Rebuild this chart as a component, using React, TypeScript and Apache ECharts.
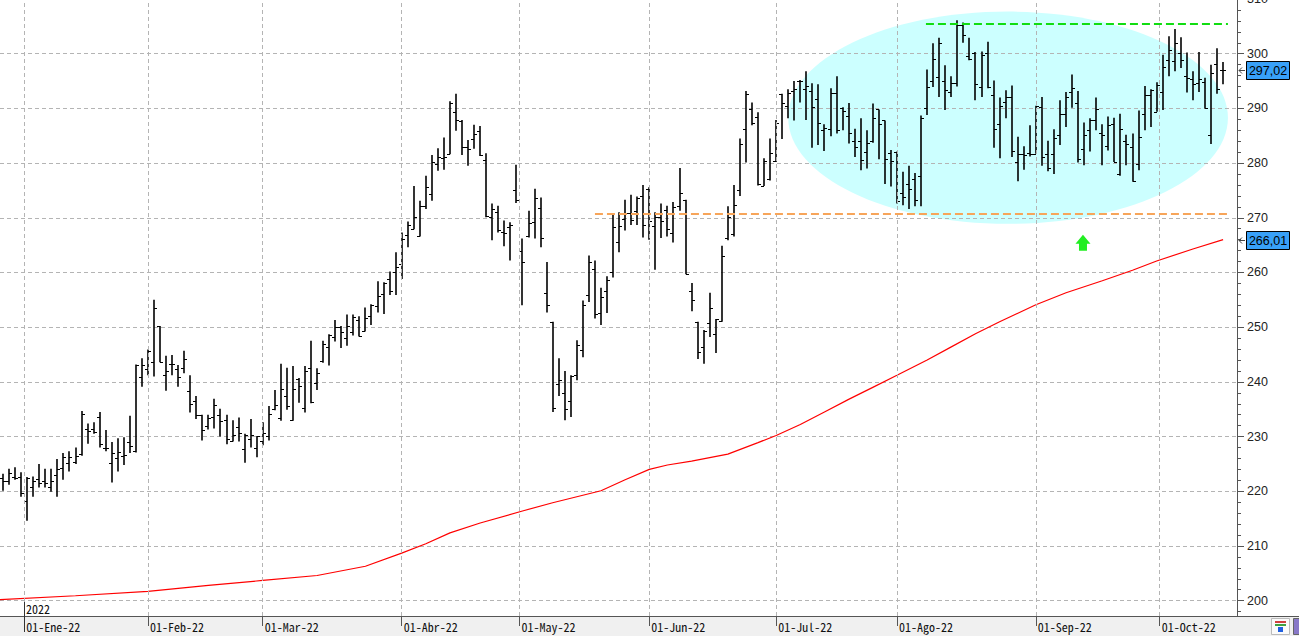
import React, { useEffect, useRef } from "react";
import * as echarts from "echarts";

// ---------- calendar (US trading days) ----------
const holidays = ["2022-01-17", "2022-02-21", "2022-04-15", "2022-05-30", "2022-06-20", "2022-07-04", "2022-09-05"];
const firstDay = "2021-12-28";
const lastDay = "2022-10-17";
const monthNames = ["Ene", "Feb", "Mar", "Abr", "May", "Jun", "Jul", "Ago", "Sep", "Oct", "Nov", "Dic"];
const monthStarts = ["2022-01-01", "2022-02-01", "2022-03-01", "2022-04-01", "2022-05-01", "2022-06-01", "2022-07-01", "2022-08-01", "2022-09-01", "2022-10-01"];

function buildDates(start: string, end: string): string[] {
  const out: string[] = [];
  const d = new Date(start + "T00:00:00Z");
  const e = new Date(end + "T00:00:00Z");
  while (d <= e) {
    const wd = d.getUTCDay();
    const s = d.toISOString().slice(0, 10);
    if (wd !== 0 && wd !== 6 && holidays.indexOf(s) < 0) out.push(s);
    d.setUTCDate(d.getUTCDate() + 1);
  }
  return out;
}
const dates = buildDates(firstDay, lastDay);

// ---------- OHLC ----------
const opens = [
  222.4, 221.8, 222.7, 222.6, 218.3, 220.7, 222.2, 221.8, 220.7, 222.9,
  224.2, 225.1, 225.3, 226.9, 231.3, 231.3, 233.5, 228.0, 225.1, 226.0,
  226.5, 229.0, 227.4, 240.9, 242.4, 243.6, 250.2, 241.3, 243.2, 242.4,
  242.5, 238.4, 236.5, 234.0, 231.9, 233.5, 234.0, 233.0, 229.2, 231.7,
  227.7, 229.6, 228.0, 229.2, 230.1, 235.0, 233.4, 237.4, 233.0, 240.5,
  235.2, 242.5, 239.8, 243.9, 246.3, 248.2, 250.1, 248.0, 249.1, 251.3,
  249.3, 252.1, 253.9, 256.0, 258.8, 260.1, 261.6, 266.9, 267.9, 266.7,
  272.2, 274.3, 279.8, 280.9, 281.6, 289.3, 287.7, 282.9, 284.4, 285.9,
  280.6, 270.1, 271.0, 267.4, 268.4, 275.1, 264.0, 266.6, 269.3, 271.8,
  256.3, 251.0, 239.7, 238.0, 236.5, 241.2, 245.9, 255.8, 260.7, 252.6,
  256.7, 260.0, 265.6, 269.8, 270.9, 271.3, 274.0, 275.3, 268.5, 270.2,
  271.5, 267.2, 272.2, 273.3, 256.7, 251.0, 246.4, 250.8, 248.7, 251.1,
  266.3, 267.0, 275.1, 286.2, 289.8, 288.4, 275.8, 277.1, 280.3, 292.7,
  290.4, 293.2, 295.0, 293.6, 293.2, 291.8, 286.0, 286.3, 292.9, 290.1,
  288.7, 284.1, 284.1, 282.1, 284.1, 289.8, 287.8, 281.9, 282.1, 274.5,
  276.1, 277.1, 277.7, 290.1, 295.0, 295.7, 295.1, 293.0, 294.6, 305.2,
  299.5, 300.2, 294.0, 300.1, 292.4, 287.2, 291.2, 292.1, 280.2, 281.6,
  281.9, 281.7, 290.3, 281.7, 281.7, 285.1, 289.0, 293.0, 290.9, 282.5,
  286.0, 287.8, 285.5, 283.2, 287.1, 278.0, 284.1, 282.9, 279.8, 288.9,
  292.4, 289.4, 293.0, 298.8, 298.7, 300.1, 296.0, 295.3, 294.6, 294.8,
  285.2, 298.2, 297.1,
];
const highs = [
  223.2, 224.1, 224.4, 223.5, 222.6, 222.7, 225.0, 224.1, 224.1, 225.9,
  227.0, 227.3, 228.0, 234.7, 232.4, 232.6, 234.5, 231.2, 229.0, 229.7,
  229.9, 233.8, 243.2, 244.3, 245.9, 255.0, 250.2, 244.8, 244.9, 243.1,
  245.7, 241.2, 237.4, 234.0, 234.0, 236.9, 235.1, 234.0, 233.0, 233.5,
  230.5, 233.2, 230.1, 232.6, 235.6, 238.5, 243.3, 242.6, 242.9, 240.7,
  242.9, 247.5, 242.5, 247.5, 248.7, 251.3, 250.2, 252.3, 252.3, 252.0,
  253.6, 254.2, 258.4, 258.2, 260.2, 263.7, 267.3, 269.3, 275.8, 273.1,
  277.7, 281.5, 282.7, 284.7, 291.3, 292.7, 287.9, 284.2, 287.0, 286.8,
  281.8, 272.6, 272.2, 269.5, 269.2, 279.7, 266.2, 271.3, 275.3, 273.7,
  261.9, 251.0, 244.3, 242.0, 241.2, 247.6, 254.9, 263.1, 262.2, 257.2,
  259.3, 270.5, 271.0, 273.3, 274.2, 273.9, 276.0, 275.6, 271.0, 272.6,
  272.2, 272.9, 279.1, 273.3, 258.1, 251.0, 249.5, 256.3, 251.5, 264.9,
  272.1, 276.0, 284.5, 293.2, 291.1, 289.3, 280.9, 284.5, 287.9, 292.7,
  293.5, 295.0, 295.2, 296.8, 294.6, 294.4, 287.1, 293.7, 295.9, 290.2,
  291.0, 286.3, 288.2, 286.0, 290.9, 289.8, 287.8, 282.4, 282.1, 278.4,
  279.5, 278.2, 288.7, 297.1, 301.9, 302.9, 297.9, 295.9, 306.1, 305.7,
  302.9, 300.3, 300.4, 302.2, 295.1, 292.0, 293.3, 294.2, 284.8, 283.1,
  286.9, 290.5, 292.1, 284.1, 286.2, 291.5, 293.0, 296.2, 293.2, 287.4,
  288.2, 292.0, 287.1, 288.5, 288.3, 289.0, 285.2, 285.4, 289.6, 294.1,
  293.5, 294.8, 299.8, 303.2, 304.5, 303.0, 300.2, 296.8, 300.3, 295.6,
  298.0, 301.0, 298.5,
];
const lows = [
  220.1, 221.2, 222.1, 219.0, 214.6, 219.0, 220.7, 220.7, 219.9, 219.0,
  222.1, 223.6, 225.0, 226.5, 228.7, 230.5, 228.0, 227.3, 221.6, 223.6,
  224.8, 227.0, 227.1, 239.1, 241.2, 241.0, 243.6, 238.4, 241.2, 239.1,
  241.6, 234.4, 233.2, 229.3, 231.3, 231.5, 230.0, 228.6, 229.1, 229.1,
  225.2, 228.0, 226.2, 228.4, 229.3, 234.8, 232.9, 234.9, 232.9, 236.2,
  234.4, 236.1, 238.5, 243.5, 243.0, 247.4, 246.2, 246.6, 248.5, 248.3,
  249.2, 250.4, 252.7, 252.4, 255.9, 255.9, 258.8, 264.6, 267.9, 266.6,
  271.6, 273.1, 278.6, 278.8, 281.6, 285.9, 281.5, 279.5, 282.6, 281.3,
  270.1, 265.9, 267.3, 264.8, 262.2, 272.7, 254.0, 266.4, 266.2, 264.6,
  252.7, 234.5, 237.4, 233.0, 233.6, 240.3, 244.5, 254.6, 251.6, 250.4,
  252.6, 259.1, 263.7, 267.7, 268.7, 268.7, 266.4, 266.0, 260.5, 266.3,
  266.6, 265.5, 271.3, 259.7, 252.9, 244.2, 243.3, 248.2, 245.3, 251.0,
  265.9, 266.6, 274.0, 280.1, 286.9, 275.9, 275.8, 276.8, 280.2, 284.4,
  288.2, 287.8, 291.1, 287.9, 282.8, 283.3, 282.2, 284.9, 285.4, 286.0,
  283.6, 281.1, 278.7, 279.0, 283.7, 280.7, 276.2, 275.7, 272.6, 272.3,
  271.6, 272.1, 272.1, 288.8, 293.9, 292.1, 289.7, 292.1, 294.0, 302.0,
  298.8, 291.5, 292.1, 293.7, 282.8, 280.9, 288.2, 281.1, 276.7, 278.8,
  281.2, 281.7, 279.5, 278.5, 278.0, 283.3, 286.6, 290.1, 280.1, 279.6,
  282.1, 286.0, 279.6, 282.3, 280.2, 277.7, 279.6, 276.6, 278.7, 286.0,
  286.6, 289.4, 289.7, 295.9, 296.8, 297.4, 292.9, 291.5, 293.0, 290.0,
  283.5, 292.7, 294.4,
];
const closes = [
  221.8, 223.3, 222.4, 219.6, 222.4, 221.8, 221.5, 221.6, 221.8, 224.1,
  226.2, 226.2, 226.5, 234.1, 231.1, 230.8, 228.6, 228.0, 227.0, 227.1,
  226.6, 228.2, 243.1, 243.1, 245.7, 253.5, 243.7, 242.0, 243.2, 240.9,
  244.1, 236.0, 234.0, 231.2, 233.4, 235.8, 232.9, 229.6, 230.3, 230.6,
  230.3, 230.3, 230.1, 230.6, 234.1, 235.8, 238.7, 235.6, 238.7, 239.3,
  242.0, 236.4, 241.6, 246.9, 248.6, 250.0, 249.1, 250.2, 251.8, 248.3,
  251.6, 254.0, 255.7, 258.0, 256.6, 261.0, 266.1, 268.7, 270.1, 272.2,
  275.7, 280.2, 281.1, 281.1, 290.9, 287.8, 282.9, 282.5, 285.3, 281.5,
  270.4, 271.6, 267.7, 267.2, 268.7, 273.3, 261.9, 269.0, 273.6, 266.3,
  254.0, 235.3, 240.3, 235.1, 241.1, 246.7, 254.1, 261.9, 252.4, 255.5,
  258.7, 268.4, 268.5, 270.9, 269.6, 273.7, 268.7, 269.5, 270.2, 269.5,
  267.9, 271.9, 274.5, 259.8, 255.0, 245.5, 249.3, 253.5, 251.5, 263.1,
  270.2, 272.4, 283.4, 292.6, 287.4, 276.1, 280.4, 281.8, 287.4, 290.9,
  292.9, 293.5, 295.0, 294.1, 290.2, 287.4, 286.5, 292.9, 286.0, 289.6,
  285.5, 283.0, 280.5, 283.7, 288.3, 287.1, 280.8, 280.4, 273.0, 273.8,
  275.2, 273.2, 288.2, 294.0, 299.0, 302.0, 293.3, 294.6, 305.2, 303.4,
  299.1, 294.4, 299.7, 294.0, 286.3, 290.5, 292.1, 282.3, 281.7, 281.5,
  281.7, 290.4, 281.2, 279.1, 284.5, 289.0, 292.1, 293.7, 280.8, 285.1,
  287.8, 289.8, 285.2, 287.0, 280.2, 286.3, 283.5, 276.7, 284.8, 292.4,
  293.3, 294.3, 297.6, 300.6, 302.0, 298.8, 295.5, 294.4, 295.4, 290.0,
  296.5, 293.5, 297.02,
];

// ---------- moving average (at bar positions) ----------
const maIndex = [-0.5, 12, 24, 34, 43, 52, 60, 66, 70, 74, 79, 86, 91, 99, 103, 107, 110, 114, 120, 125, 128, 132, 136, 140, 144, 148, 153, 157, 161, 165, 171, 176, 182, 187, 191, 197, 202];
const maValues = [200.2, 200.9, 201.7, 202.8, 203.7, 204.6, 206.3, 208.7, 210.4, 212.4, 214.2, 216.4, 217.9, 220.1, 222.1, 224.0, 224.8, 225.5, 226.8, 228.9, 230.2, 232.2, 234.5, 236.8, 239.0, 241.2, 244.0, 246.4, 248.8, 251.0, 254.1, 256.3, 258.5, 260.4, 262.1, 264.3, 266.01];

// ---------- annotations ----------
const resistance = { value: 305.5, fromIndex: 152.8, toIndex: 202.8 };
const support = { value: 270.7, fromIndex: 98.0, toIndex: 202.8 };
const zone = { cx: 166.4, cy: 288.3, rxBars: 36.4, ryUnits: 19.4 };
const arrowTip = { index: 178.8, value: 266.9 };

const monoFont = '"Noto Sans Mono CJK JP", "DejaVu Sans Mono", monospace';
const axisFont = '"Liberation Sans", Arial, sans-serif';

const monthTicks = monthStarts.map((key) => {
  const i = dates.findIndex((d) => d >= key);
  const pos = dates[i] === key ? i : i - 0.5;
  const m = parseInt(key.slice(5, 7), 10) - 1;
  return { pos, label: "01-" + monthNames[m] + "-" + key.slice(2, 4) };
});
const tickPositions = monthTicks.map((t) => t.pos);

function fmt(v: number) {
  return v.toFixed(2).replace(".", ",");
}

const App = () => {
  const ref = useRef<HTMLDivElement>(null);
  useEffect(() => {
    document.body.style.margin = "0";
    const chart = echarts.init(ref.current!, null, { renderer: "svg" });
    const ohlc = dates.map((d, i) => [i, opens[i], highs[i], lows[i], closes[i]]);
    const ma = maIndex.map((x, i) => [x, maValues[i]]);
    const gridDash = { color: "#b4b4b4", type: [4, 3] as any, width: 1 };

    chart.setOption({
      animation: false,
      backgroundColor: "#ffffff",
      grid: { left: 0, right: 62, top: -1, bottom: 20, containLabel: false, outerBoundsMode: "none" },
      xAxis: {
        type: "value",
        min: -0.5,
        max: 204.3,
        axisLine: { show: false, onZero: false },
        axisTick: { show: true, customValues: tickPositions, length: 10, lineStyle: { color: "#555" } },
        axisLabel: {
          customValues: tickPositions,
          formatter: (v: number) => {
            const t = monthTicks.find((m) => Math.abs(m.pos - v) < 0.01);
            return t ? t.label : "";
          },
          align: "left",
          margin: 4,
          padding: [0, 0, 0, 2],
          color: "#111",
          fontSize: 12,
          fontFamily: monoFont,
        },
        splitLine: { show: false },
        minorSplitLine: { show: false },
      },
      yAxis: {
        type: "value",
        position: "right",
        min: 197.2,
        max: 310,
        minInterval: 10,
        maxInterval: 10,
        splitNumber: 11,
        axisLine: { show: true, onZero: false, lineStyle: { color: "#555" } },
        axisTick: { show: true, length: 7, lineStyle: { color: "#555" } },
        minorTick: { show: true, splitNumber: 5, length: 4, lineStyle: { color: "#555" } },
        axisLabel: { color: "#222", fontSize: 12.5, fontFamily: axisFont, margin: 10, showMinLabel: false },
        splitLine: { show: true, lineStyle: gridDash },
      },
      series: [
        {
          type: "line",
          name: "MA",
          data: ma,
          showSymbol: false,
          smooth: false,
          lineStyle: { color: "#ff0000", width: 1.2 },
          z: 3,
          markLine: {
            silent: true,
            symbol: ["none", "none"],
            label: { show: false },
            data: [
              ...monthTicks.map((t) => ({ xAxis: t.pos, lineStyle: gridDash })),
              [
                { coord: [resistance.fromIndex, resistance.value], lineStyle: { color: "#11dd11", width: 2, type: [8, 4] } },
                { coord: [resistance.toIndex, resistance.value], lineStyle: { color: "#11dd11", width: 2, type: [8, 4] } },
              ],
              [
                { coord: [support.fromIndex, support.value], lineStyle: { color: "#f7a55a", width: 2, type: [8, 4] } },
                { coord: [support.toIndex, support.value], lineStyle: { color: "#f7a55a", width: 2, type: [8, 4] } },
              ],
            ],
          },
        },
        {
          type: "custom",
          name: "OHLC",
          data: ohlc,
          encode: { x: 0, y: [1, 2, 3, 4] },
          z: 4,
          renderItem: (params: any, api: any) => {
            const x = api.value(0);
            const pH = api.coord([x, api.value(2)]);
            const pL = api.coord([x, api.value(3)]);
            const pO = api.coord([x, api.value(1)]);
            const pC = api.coord([x, api.value(4)]);
            const px = Math.round(pH[0]);
            const yo = Math.round(pO[1]) + 0.5;
            const yc = Math.round(pC[1]) + 0.5;
            return {
              type: "group",
              children: [
                { type: "line", shape: { x1: px, y1: pH[1], x2: px, y2: pL[1] }, style: { stroke: "#000", lineWidth: 1.6 } },
                { type: "line", shape: { x1: px - 3, y1: yo, x2: px, y2: yo }, style: { stroke: "#000", lineWidth: 1 } },
                { type: "line", shape: { x1: px, y1: yc, x2: px + 3, y2: yc }, style: { stroke: "#000", lineWidth: 1 } },
              ],
            };
          },
        },
      ],
    });

    const toPx = (x: number, y: number) => chart.convertToPixel({ gridIndex: 0 }, [x, y]) as number[];
    const c = toPx(zone.cx, zone.cy);
    const e1 = toPx(zone.cx + zone.rxBars, zone.cy + zone.ryUnits);
    const rx = Math.abs(e1[0] - c[0]);
    const ry = Math.abs(e1[1] - c[1]);
    const jan = toPx(tickPositions[0], 200);
    const tip = toPx(arrowTip.index, arrowTip.value);
    const axisY = 616;
    const lastClose = closes[closes.length - 1];
    const lastMa = maValues[maValues.length - 1];

    const tag = (v: number) => {
      const y = Math.round(toPx(0, v)[1]);
      return [
        { type: "polyline", shape: { points: [[1245, y + 0.5], [1239, y + 0.5]] }, style: { stroke: "#444", lineWidth: 1 }, z: 10 },
        { type: "polyline", shape: { points: [[1242, y - 2.5], [1239, y + 0.5], [1242, y + 3.5]] }, style: { stroke: "#444", lineWidth: 1, fill: "none" }, z: 10 },
        { type: "rect", shape: { x: 1246.5, y: y - 8.5, width: 43, height: 18 }, style: { fill: "#38a0f8", stroke: "#000", lineWidth: 1 }, z: 10 },
        { type: "text", x: 1268, y: y + 0.5, style: { text: fmt(v), fill: "#000", font: "12.5px " + axisFont, textAlign: "center", textVerticalAlign: "middle" }, z: 11 },
      ];
    };

    chart.setOption({
      graphic: {
        elements: [
          { type: "ellipse", shape: { cx: c[0], cy: c[1], rx, ry }, style: { fill: "#ccffff" }, z: -10, silent: true },
          { type: "rect", shape: { x: 0, y: axisY, width: 1299, height: 20 }, style: { fill: "#f0f0f0" }, z: -10, silent: true },
          { type: "line", shape: { x1: 0, y1: axisY + 0.5, x2: 1299, y2: axisY + 0.5 }, style: { stroke: "#555", lineWidth: 1 }, z: 6 },
          { type: "line", shape: { x1: Math.round(jan[0]) + 0.5, y1: 602, x2: Math.round(jan[0]) + 0.5, y2: 632 }, style: { stroke: "#333", lineWidth: 1 }, z: 6 },
          { type: "text", x: Math.round(jan[0]) + 2, y: 608.5, style: { text: "2022", fill: "#111", font: "12px " + monoFont, textVerticalAlign: "middle" }, z: 6 },
          {
            type: "polygon",
            shape: {
              points: [
                [tip[0], tip[1]],
                [tip[0] + 7.5, tip[1] + 9],
                [tip[0] + 4, tip[1] + 9],
                [tip[0] + 4, tip[1] + 16],
                [tip[0] - 4, tip[1] + 16],
                [tip[0] - 4, tip[1] + 9],
                [tip[0] - 7.5, tip[1] + 9],
              ],
            },
            style: { fill: "#22ee22" },
            z: 8,
          },
          ...tag(lastClose),
          ...tag(lastMa),
          { type: "rect", shape: { x: 1271.5, y: 618.5, width: 18, height: 16 }, style: { fill: "#fafafa", stroke: "#bbb", lineWidth: 1 }, z: 6 },
          { type: "rect", shape: { x: 1275, y: 621, width: 11, height: 2 }, style: { fill: "#d04040" }, z: 7 },
          { type: "rect", shape: { x: 1275, y: 624, width: 11, height: 2 }, style: { fill: "#40a040" }, z: 7 },
          { type: "rect", shape: { x: 1278, y: 627, width: 5, height: 5 }, style: { fill: "#2060e0" }, z: 7 },
          { type: "rect", shape: { x: 1293.5, y: 618.5, width: 8, height: 16 }, style: { fill: "#8878c8", stroke: "#666", lineWidth: 1 }, z: 6 },
        ],
      },
    });

    return () => chart.dispose();
  }, []);
  return <div ref={ref} style={{ width: 1299, height: 636 }} />;
};

export default App;
